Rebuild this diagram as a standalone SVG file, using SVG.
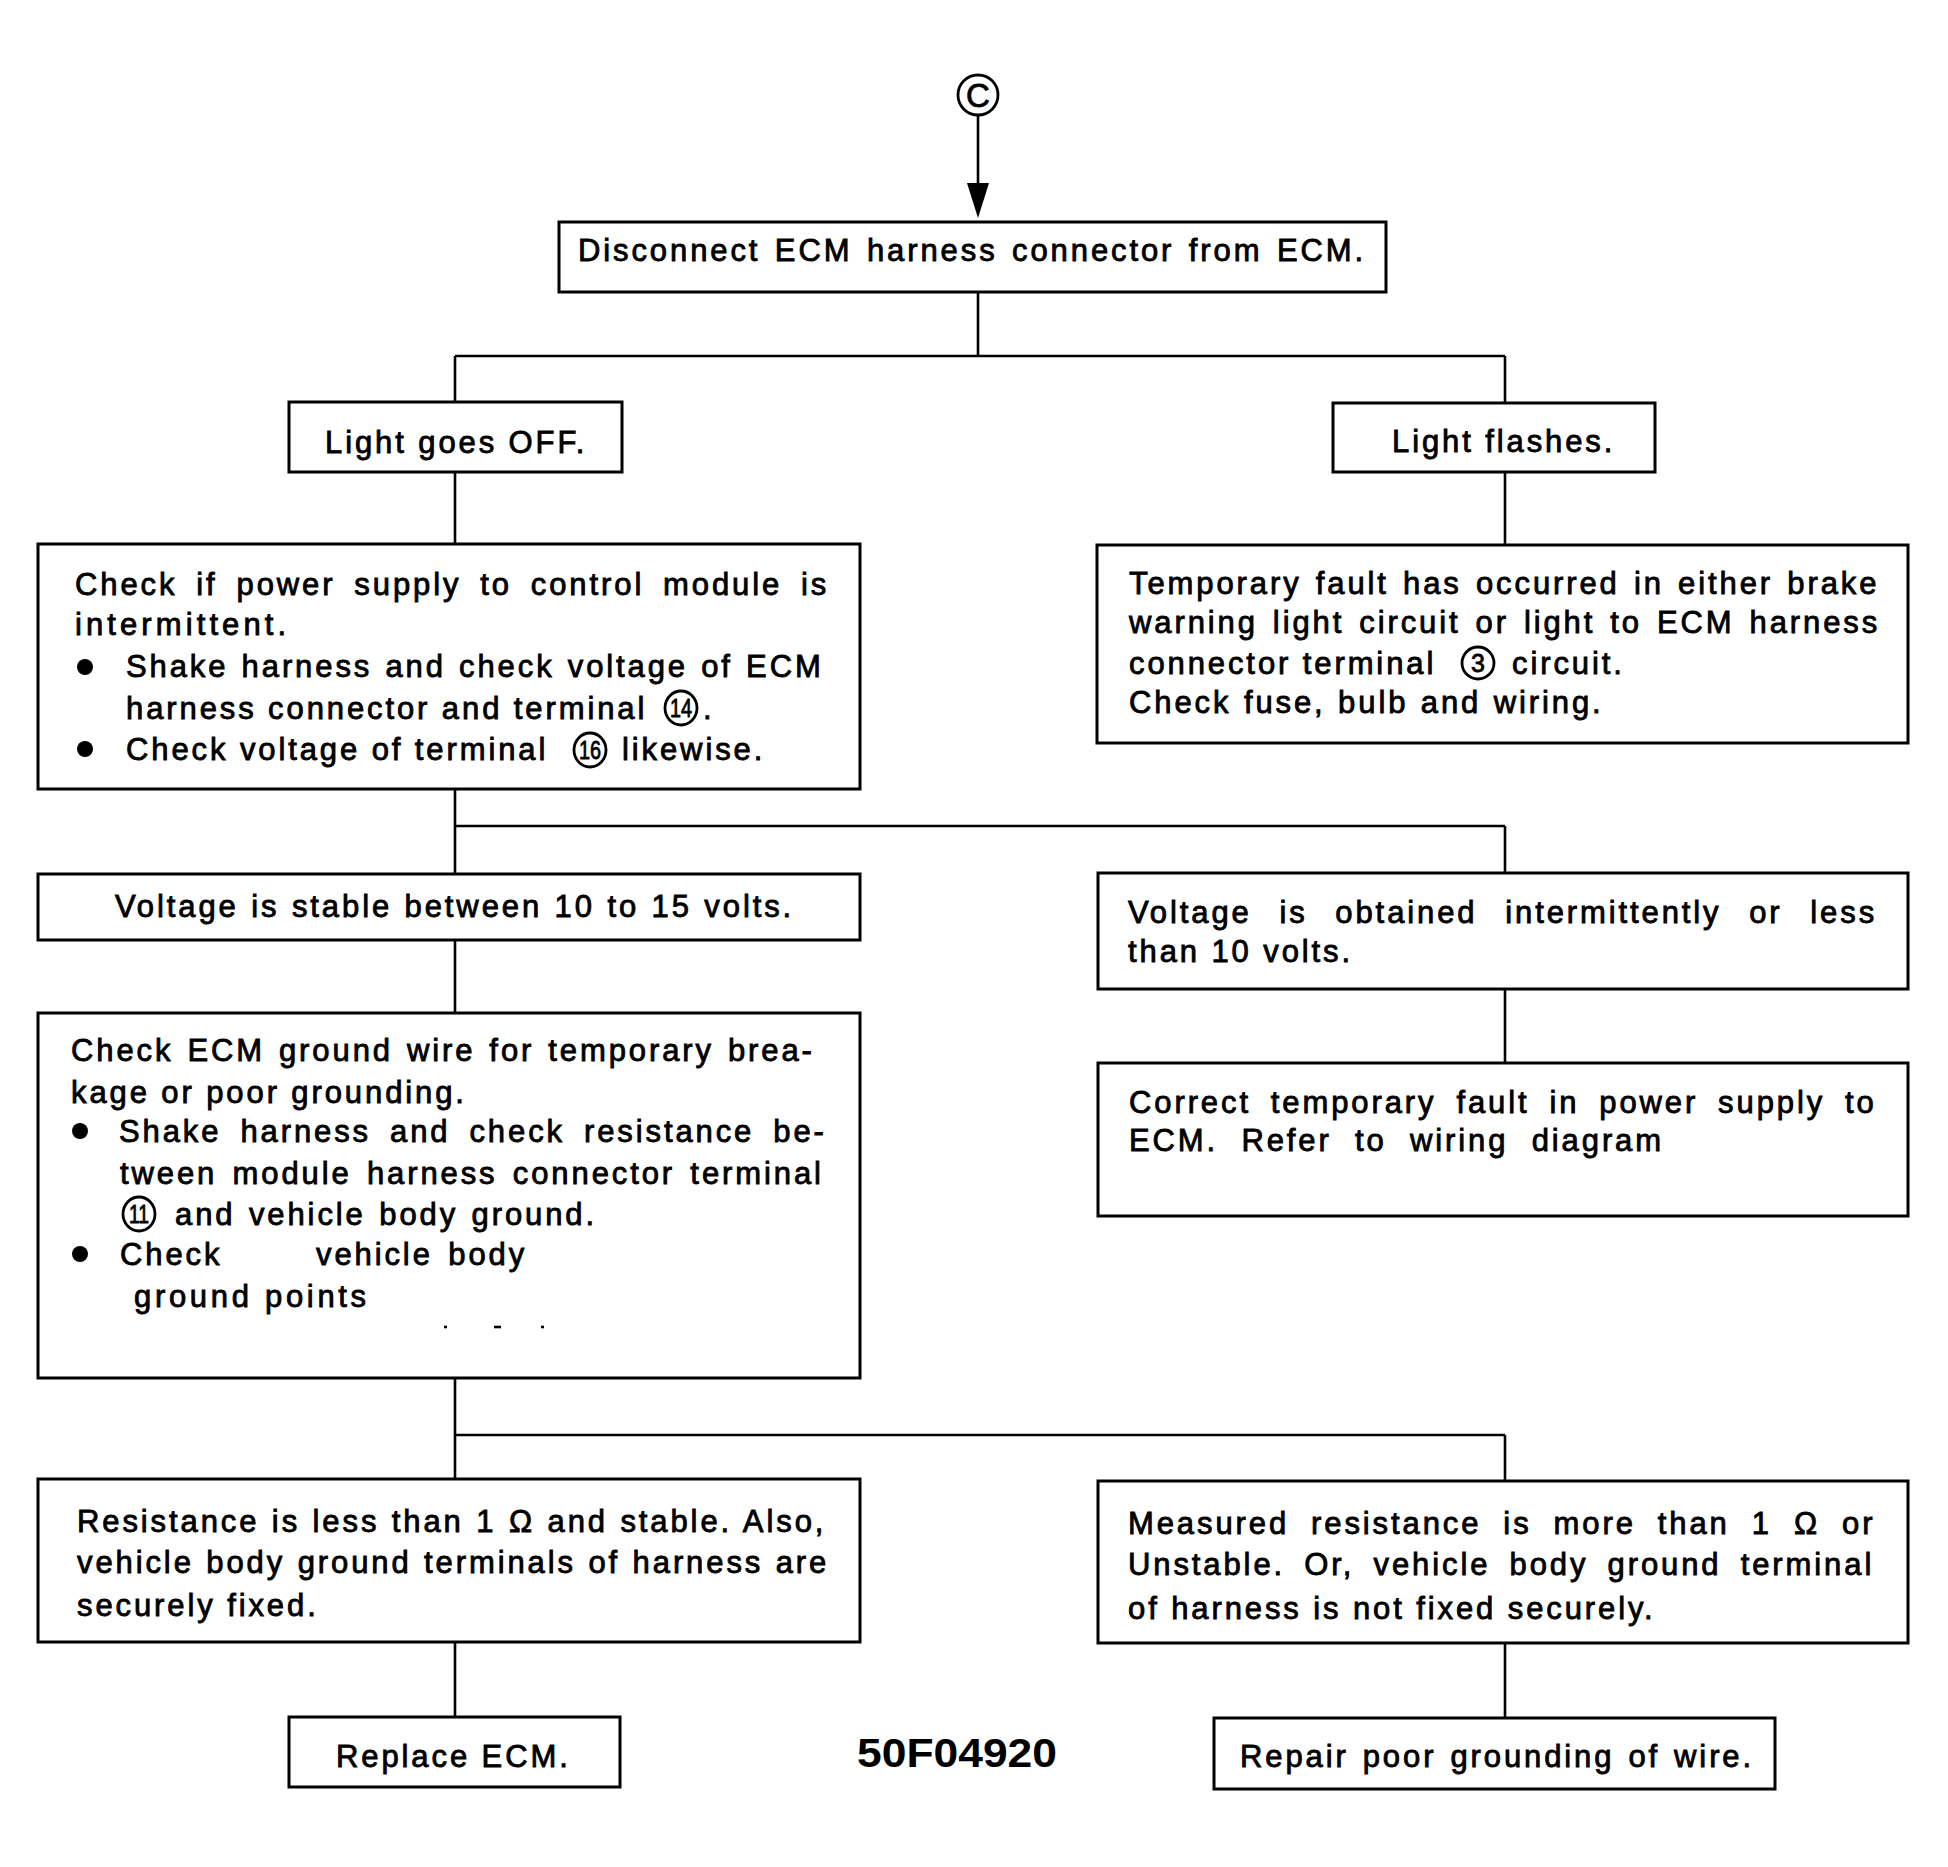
<svg xmlns="http://www.w3.org/2000/svg" width="1948" height="1867" viewBox="0 0 1948 1867">
<style>
.bg{fill:#fff}
.box{fill:#fff;stroke:#000;stroke-width:3}
.ln{stroke:#000;stroke-width:2.6;fill:none}
.t{font-family:"Liberation Sans",Arial,sans-serif;font-size:31px;letter-spacing:2.9px;fill:#000;stroke:#000;stroke-width:0.85}
.cn{fill:none;stroke:#000;stroke-width:2.8}
.cd{font-family:"Liberation Sans",Arial,sans-serif;font-size:25px;fill:#000;text-anchor:middle;stroke:#000;stroke-width:0.8}
.dot{fill:#000}
.code{font-family:"Liberation Sans",Arial,sans-serif;font-size:40px;font-weight:bold;fill:#000}
</style>
<rect class="bg" x="0" y="0" width="1948" height="1867"/>

<g id="connectors">
  <g id="start-C">
    <circle class="cn" cx="978" cy="95" r="20" stroke-width="3"/>
    <text x="978" y="107" font-family="Liberation Sans, Arial, sans-serif" font-size="33" text-anchor="middle" fill="#000" stroke="#000" stroke-width="0.8">C</text>
  </g>
  <line class="ln" x1="978" y1="116" x2="978" y2="186"/>
  <polygon points="967,183 989,183 978,218" fill="#000"/>
  <line class="ln" x1="978" y1="293" x2="978" y2="356"/>
  <line class="ln" x1="455" y1="356" x2="1505" y2="356"/>
  <line class="ln" x1="455" y1="356" x2="455" y2="402"/>
  <line class="ln" x1="1505" y1="356" x2="1505" y2="403"/>
  <line class="ln" x1="455" y1="472" x2="455" y2="544"/>
  <line class="ln" x1="1505" y1="472" x2="1505" y2="545"/>
  <line class="ln" x1="455" y1="789" x2="455" y2="874"/>
  <line class="ln" x1="455" y1="826" x2="1505" y2="826"/>
  <line class="ln" x1="1505" y1="826" x2="1505" y2="873"/>
  <line class="ln" x1="455" y1="940" x2="455" y2="1013"/>
  <line class="ln" x1="1505" y1="989" x2="1505" y2="1063"/>
  <line class="ln" x1="455" y1="1378" x2="455" y2="1479"/>
  <line class="ln" x1="455" y1="1435" x2="1505" y2="1435"/>
  <line class="ln" x1="1505" y1="1435" x2="1505" y2="1481"/>
  <line class="ln" x1="455" y1="1642" x2="455" y2="1717"/>
  <line class="ln" x1="1505" y1="1643" x2="1505" y2="1718"/>
</g>

<g id="n1">
  <rect class="box" x="559" y="222" width="827" height="70"/>
  <text class="t" x="578" y="261" word-spacing="3">Disconnect ECM harness connector from ECM.</text>
</g>

<g id="n2">
  <rect class="box" x="289" y="402" width="333" height="70"/>
  <text class="t" x="325" y="453">Light goes OFF.</text>
</g>

<g id="n3">
  <rect class="box" x="1333" y="403" width="322" height="69"/>
  <text class="t" x="1392" y="452">Light flashes.</text>
</g>

<g id="n4">
  <rect class="box" x="38" y="544" width="822" height="245"/>
  <text class="t" x="75" y="595" word-spacing="7.4">Check if power supply to control module is</text>
  <text class="t" x="75" y="635" textLength="214">intermittent.</text>
  <circle class="dot" cx="85" cy="667" r="8"/>
  <text class="t" x="126" y="677" word-spacing="1.7">Shake harness and check voltage of ECM</text>
  <text class="t" x="126" y="719">harness connector and terminal</text>
  <ellipse class="cn" cx="681" cy="708" rx="16" ry="17"/>
  <text class="cd" x="681" y="717" textLength="22" lengthAdjust="spacingAndGlyphs">14</text>
  <text class="t" x="703" y="719">.</text>
  <circle class="dot" cx="85" cy="749" r="8"/>
  <text class="t" x="126" y="760">Check voltage of terminal</text>
  <ellipse class="cn" cx="590" cy="750" rx="16" ry="17"/>
  <text class="cd" x="590" y="759" textLength="22" lengthAdjust="spacingAndGlyphs">16</text>
  <text class="t" x="622" y="760">likewise.</text>
</g>

<g id="n5">
  <rect class="box" x="1097" y="545" width="811" height="198"/>
  <text class="t" x="1129" y="594" word-spacing="2.7">Temporary fault has occurred in either brake</text>
  <text class="t" x="1129" y="633" word-spacing="3.5">warning light circuit or light to ECM harness</text>
  <text class="t" x="1129" y="674">connector terminal</text>
  <circle class="cn" cx="1478" cy="663" r="16"/>
  <text class="cd" x="1478" y="672">3</text>
  <text class="t" x="1512" y="674">circuit.</text>
  <text class="t" x="1129" y="713" word-spacing="1">Check fuse, bulb and wiring.</text>
</g>

<g id="n6">
  <rect class="box" x="38" y="874" width="822" height="66"/>
  <text class="t" x="115" y="917" word-spacing="1">Voltage is stable between 10 to 15 volts.</text>
</g>

<g id="n7">
  <rect class="box" x="1098" y="873" width="810" height="116"/>
  <text class="t" x="1128" y="923" word-spacing="16.2">Voltage is obtained intermittently or less</text>
  <text class="t" x="1128" y="962">than 10 volts.</text>
</g>

<g id="n8">
  <rect class="box" x="38" y="1013" width="822" height="365"/>
  <text class="t" x="71" y="1061" word-spacing="2.5">Check ECM ground wire for temporary brea-</text>
  <text class="t" x="71" y="1103">kage or poor grounding.</text>
  <circle class="dot" cx="80" cy="1131" r="8"/>
  <text class="t" x="119" y="1142" word-spacing="7.5">Shake harness and check resistance be-</text>
  <text class="t" x="120" y="1184" word-spacing="3.8">tween module harness connector terminal</text>
  <ellipse class="cn" cx="139" cy="1214" rx="16" ry="17"/>
  <text class="cd" x="139" y="1223" textLength="20" lengthAdjust="spacingAndGlyphs">11</text>
  <text class="t" x="175" y="1225" word-spacing="2">and vehicle body ground.</text>
  <circle class="dot" cx="80" cy="1254" r="8"/>
  <text class="t" x="120" y="1265">Check</text>
  <text class="t" x="316" y="1265" word-spacing="4">vehicle body</text>
  <text class="t" x="134" y="1307" textLength="235">ground points</text>
  <line class="ln" x1="444" y1="1327" x2="447" y2="1327" stroke-width="2"/>
  <line class="ln" x1="494" y1="1327" x2="501" y2="1327" stroke-width="2"/>
  <line class="ln" x1="541" y1="1327" x2="544" y2="1327" stroke-width="2"/>
</g>

<g id="n9">
  <rect class="box" x="1098" y="1063" width="810" height="153"/>
  <text class="t" x="1129" y="1113" word-spacing="8.4">Correct temporary fault in power supply to</text>
  <text class="t" x="1129" y="1151" word-spacing="11.8">ECM. Refer to wiring diagram</text>
</g>

<g id="n10">
  <rect class="box" x="38" y="1479" width="822" height="163"/>
  <text class="t" x="77" y="1532" word-spacing="1">Resistance is less than 1 Ω and stable. Also,</text>
  <text class="t" x="77" y="1573" word-spacing="1">vehicle body ground terminals of harness are</text>
  <text class="t" x="77" y="1616">securely fixed.</text>
</g>

<g id="n11">
  <rect class="box" x="1098" y="1481" width="810" height="162"/>
  <text class="t" x="1128" y="1534" word-spacing="10.5">Measured resistance is more than 1 Ω or</text>
  <text class="t" x="1128" y="1575" word-spacing="7.7">Unstable. Or, vehicle body ground terminal</text>
  <text class="t" x="1128" y="1619">of harness is not fixed securely.</text>
</g>

<g id="n12">
  <rect class="box" x="289" y="1717" width="331" height="70"/>
  <text class="t" x="336" y="1767">Replace ECM.</text>
</g>

<g id="n13">
  <rect class="box" x="1214" y="1718" width="561" height="71"/>
  <text class="t" x="1240" y="1767" word-spacing="2.5">Repair poor grounding of wire.</text>
</g>

<text id="figure-code" class="code" x="857" y="1767" textLength="200" lengthAdjust="spacingAndGlyphs">50F04920</text>
</svg>
